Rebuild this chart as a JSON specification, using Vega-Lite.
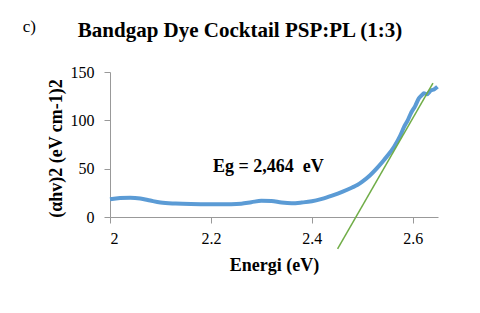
{
  "$schema": "https://vega.github.io/schema/vega-lite/v6.json",
  "autosize": "none",
  "width": 328,
  "height": 145,
  "padding": {"left": 110, "top": 72, "right": 42, "bottom": 96},
  "background": "white",
  "config": {
    "view": {"stroke": null},
    "font": "Liberation Serif",
    "axis": {"grid": false, "domainColor": "#999999", "tickColor": "#999999", "labelFont": "Liberation Serif", "titleFont": "Liberation Serif", "labelColor": "#000000", "titleColor": "#000000", "labelFontSize": 16, "titleFontSize": 16, "titleFontWeight": "bold", "tickSize": 6}
  },
  "title": {"text": "Bandgap Dye Cocktail PSP:PL (1:3)", "font": "Liberation Serif", "fontSize": 21, "fontWeight": "bold", "color": "#000000", "anchor": "middle", "dx": -34, "offset": -23},
  "datasets": {
    "curve": [
      {"e": 2.00, "a": 18.3}, {"e": 2.02, "a": 19.6}, {"e": 2.04, "a": 20.0}, {"e": 2.06, "a": 19.2},
      {"e": 2.08, "a": 17.0}, {"e": 2.10, "a": 15.0}, {"e": 2.13, "a": 13.9}, {"e": 2.16, "a": 13.4},
      {"e": 2.20, "a": 13.2}, {"e": 2.24, "a": 13.3}, {"e": 2.26, "a": 13.8}, {"e": 2.28, "a": 15.3},
      {"e": 2.30, "a": 16.8}, {"e": 2.32, "a": 16.5}, {"e": 2.34, "a": 15.0}, {"e": 2.36, "a": 14.3},
      {"e": 2.38, "a": 15.0}, {"e": 2.40, "a": 16.2}, {"e": 2.42, "a": 18.8}, {"e": 2.44, "a": 22.2},
      {"e": 2.46, "a": 26.0}, {"e": 2.48, "a": 30.5}, {"e": 2.49, "a": 33.0}, {"e": 2.50, "a": 36.5},
      {"e": 2.516, "a": 43.4}, {"e": 2.53, "a": 51.0}, {"e": 2.543, "a": 59.0}, {"e": 2.563, "a": 72.7},
      {"e": 2.575, "a": 84.0}, {"e": 2.583, "a": 93.4}, {"e": 2.59, "a": 100.0}, {"e": 2.596, "a": 107.0},
      {"e": 2.605, "a": 115.0}, {"e": 2.612, "a": 122.7}, {"e": 2.618, "a": 126.0}, {"e": 2.622, "a": 128.0},
      {"e": 2.628, "a": 127.0}, {"e": 2.636, "a": 131.0}, {"e": 2.642, "a": 132.0}, {"e": 2.649, "a": 134.8}
    ],
    "fit": [
      {"e": 2.451, "a": -33},
      {"e": 2.640, "a": 138.6}
    ],
    "notes": [
      {"e": 2.314, "a": 46.8, "label": "Eg = 2,464\u00a0\u00a0eV", "kind": "eg"},
      {"e": 1.84, "a": 191, "label": "c)", "kind": "panel"}
    ]
  },
  "layer": [
    {
      "data": {"name": "curve"},
      "mark": {"type": "line", "color": "#5b9bd5", "strokeWidth": 4, "interpolate": "monotone"},
      "encoding": {
        "x": {"field": "e", "type": "quantitative", "scale": {"domain": [2, 2.65], "nice": false, "zero": false}, "axis": {"values": [2, 2.2, 2.4, 2.6], "title": "Energi (eV)", "titleFontSize": 18, "titlePadding": 10, "labelPadding": 7, "format": "~g"}},
        "y": {"field": "a", "type": "quantitative", "scale": {"domain": [0, 150], "nice": false}, "axis": {"values": [0, 50, 100, 150], "title": "(αhv)2 (eV cm-1)2", "titleFontSize": 18, "titlePadding": 5, "titleY": 76, "labelPadding": 10}}
      }
    },
    {
      "data": {"name": "fit"},
      "mark": {"type": "line", "color": "#70ad47", "strokeWidth": 1.5, "clip": false},
      "encoding": {
        "x": {"field": "e", "type": "quantitative"},
        "y": {"field": "a", "type": "quantitative"}
      }
    },
    {
      "data": {"name": "notes"},
      "transform": [{"filter": "datum.kind === 'eg'"}],
      "mark": {"type": "text", "font": "Liberation Serif", "fontSize": 18, "fontWeight": "bold", "color": "#000000", "baseline": "alphabetic", "clip": false},
      "encoding": {
        "x": {"field": "e", "type": "quantitative"},
        "y": {"field": "a", "type": "quantitative"},
        "text": {"field": "label"}
      }
    },
    {
      "data": {"name": "notes"},
      "transform": [{"filter": "datum.kind === 'panel'"}],
      "mark": {"type": "text", "font": "Liberation Serif", "fontSize": 17, "color": "#000000", "baseline": "alphabetic", "clip": false},
      "encoding": {
        "x": {"field": "e", "type": "quantitative"},
        "y": {"field": "a", "type": "quantitative"},
        "text": {"field": "label"}
      }
    }
  ]
}
